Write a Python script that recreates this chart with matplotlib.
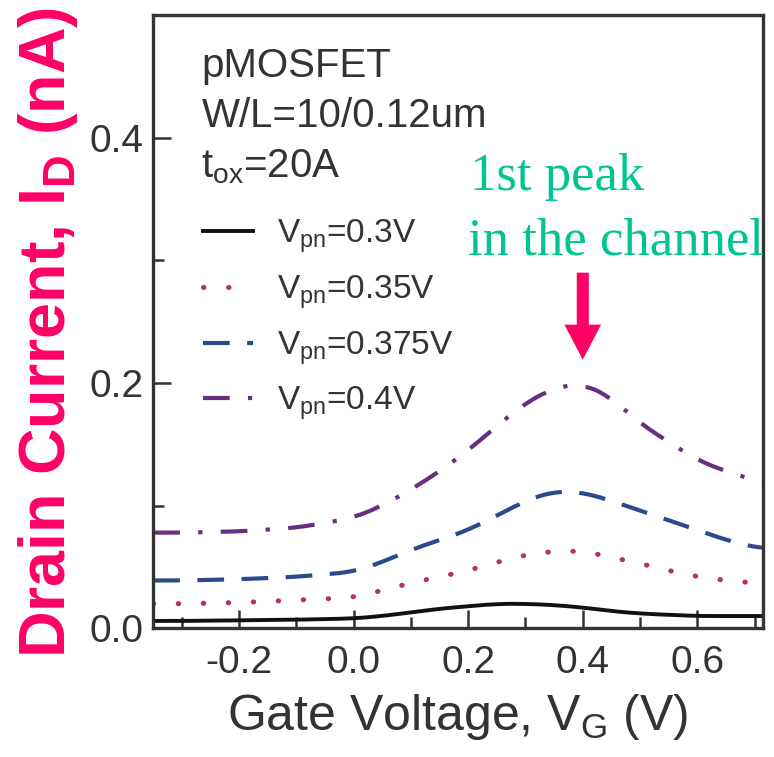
import numpy as np
import matplotlib
matplotlib.use('Agg')
import matplotlib.pyplot as plt
from matplotlib.ticker import MultipleLocator

plt.rcParams['font.family'] = ['Liberation Sans', 'DejaVu Sans']
plt.rcParams['mathtext.fontset'] = 'custom'
plt.rcParams['mathtext.rm'] = 'Liberation Sans'
plt.rcParams['mathtext.it'] = 'Liberation Sans:italic'
plt.rcParams['mathtext.bf'] = 'Liberation Sans:bold'
plt.rcParams['mathtext.default'] = 'rm'

# gate voltage (V)
vg = [-0.35, -0.3, -0.2, -0.1, 0.0, 0.05, 0.1, 0.15, 0.2, 0.25, 0.3,
      0.35, 0.4, 0.45, 0.5, 0.55, 0.6, 0.65, 0.7, 0.715]
# drain current (nA) for each Vpn
id_030 = [0.006, 0.006, 0.0065, 0.007, 0.008, 0.010, 0.013, 0.016, 0.018, 0.020, 0.020,
          0.019, 0.017, 0.014, 0.012, 0.011, 0.010, 0.010, 0.010, 0.010]
id_035 = [0.020, 0.020, 0.021, 0.023, 0.025, 0.031, 0.037, 0.042, 0.047, 0.054, 0.060,
          0.063, 0.063, 0.058, 0.053, 0.047, 0.042, 0.039, 0.037, 0.036]
id_0375 = [0.039, 0.039, 0.040, 0.042, 0.046, 0.054, 0.064, 0.072, 0.080, 0.092, 0.104,
           0.112, 0.111, 0.104, 0.096, 0.088, 0.080, 0.072, 0.066, 0.065]
id_040 = [0.078, 0.078, 0.079, 0.082, 0.090, 0.100, 0.113, 0.128, 0.145, 0.165, 0.184,
          0.196, 0.200, 0.188, 0.167, 0.152, 0.137, 0.128, 0.121, 0.118]

labels = ['V$_{pn}$=0.3V', 'V$_{pn}$=0.35V', 'V$_{pn}$=0.375V', 'V$_{pn}$=0.4V']
colors = ['#111111', '#b8344a', '#2a4a8c', '#6a2e80']

TXT = '#333333'
MAG = '#ff0066'
GRN = '#00c491'

fig = plt.figure(figsize=(7.74, 7.57), dpi=100)
ax = fig.add_axes([0.198, 0.170, 0.788, 0.810])


def smooth(x, y):
    # light moving-average over the read-off points so the curves look drawn
    xf = np.linspace(x[0], x[-1], 400)
    yf = np.interp(xf, x, y)
    k = np.ones(25) / 25
    yp = np.pad(yf, 12, mode='edge')
    return xf, np.convolve(yp, k, mode='valid')


series = [id_030, id_035, id_0375, id_040]
styles = [
    dict(linestyle='-', lw=2.8),
    dict(linestyle=(0, (0.1, 4.9)), lw=3.6, dash_capstyle='round'),
    dict(linestyle=(0, (6.4, 4.2)), lw=3.0),
    dict(linestyle=(0, (6.4, 4.4, 1.0, 4.4)), lw=3.0),
]
handles = []
for ys, c, st, lab in zip(series, colors, styles, labels):
    xf, yf = smooth(vg, ys)
    h, = ax.plot(xf, yf, color=c, label=lab, **st)
    handles.append(h)

ax.set_xlim(-0.35, 0.715)
ax.set_ylim(0, 0.5)
ax.xaxis.set_minor_locator(MultipleLocator(0.1))
ax.yaxis.set_minor_locator(MultipleLocator(0.1))
ax.set_xticks([-0.2, 0.0, 0.2, 0.4, 0.6])
ax.set_yticks([0.0, 0.2, 0.4])
ax.xaxis.set_major_formatter(lambda v, p: f'{v:.1f}')
ax.yaxis.set_major_formatter(lambda v, p: f'{v:.1f}')
ax.tick_params(which='both', direction='in', colors=TXT, labelsize=28, width=1.8)
ax.tick_params(which='major', length=13)
ax.tick_params(which='minor', length=8)
ax.tick_params(axis='x', pad=12)
ax.tick_params(axis='y', pad=7)
for s in ax.spines.values():
    s.set_linewidth(2.4)
    s.set_color(TXT)

fig.text(0.592, 0.0357, 'Gate Voltage, V$_G$ (V)', fontsize=36, color=TXT,
         ha='center', va='baseline')
fig.text(0.062, 0.5614, r'Drain Current, I$_\mathbf{D}$ (nA)', rotation=90,
         fontsize=46.5, fontweight='bold', color=MAG, ha='center', va='center')

ax.text(-0.266, 0.4498, 'pMOSFET', fontsize=29, color=TXT, va='baseline')
ax.text(-0.266, 0.409, 'W/L=10/0.12um', fontsize=29, color=TXT, va='baseline')
ax.text(-0.266, 0.368, 't$_{ox}$=20A', fontsize=29, color=TXT, va='baseline')

ax.legend(handles=handles, loc='upper left', bbox_to_anchor=(0.082, 0.670),
          frameon=False, fontsize=24, handlelength=1.5, handletextpad=0.72,
          labelspacing=0.55, borderpad=0, borderaxespad=0, labelcolor=TXT)

ax.text(0.2034, 0.3576, '1st peak', fontsize=38, color=GRN, va='baseline',
        family='Liberation Serif', clip_on=False)
ax.text(0.199, 0.3045, 'in the channel', fontsize=38, color=GRN, va='baseline',
        family='Liberation Serif', clip_on=False)
ax.arrow(0.4, 0.290, 0, -0.071, width=0.021, head_width=0.064,
         head_length=0.0286, length_includes_head=True, color=MAG, lw=0)

fig.savefig('out.png', dpi=100)
